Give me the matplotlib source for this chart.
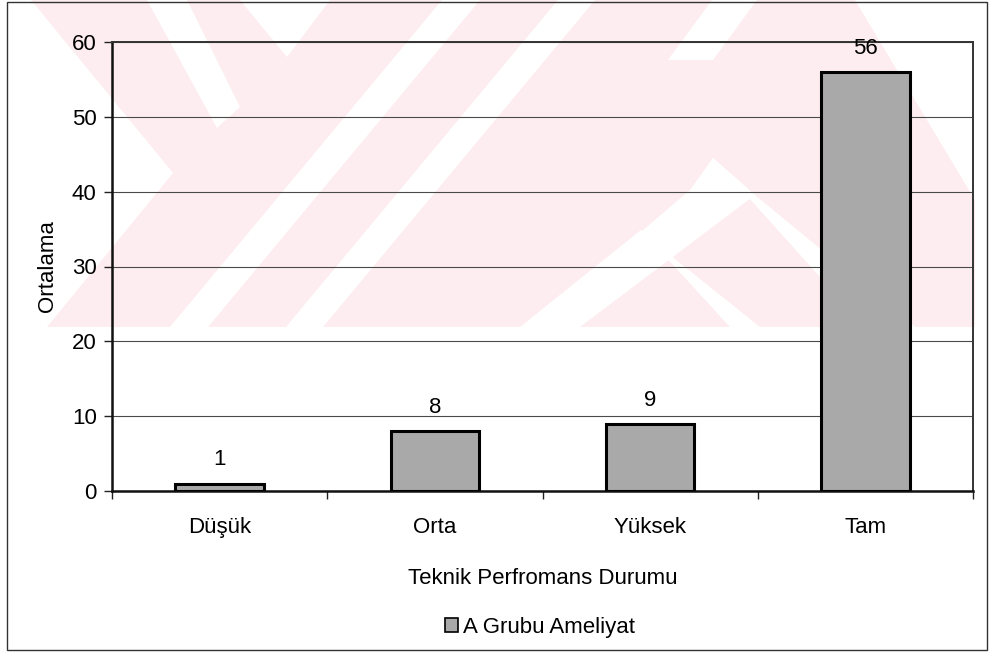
import matplotlib
matplotlib.use("Agg")
import matplotlib.pyplot as plt
from matplotlib.patches import Polygon, Rectangle, Patch

plt.rcParams["font.family"] = ["Liberation Sans", "DejaVu Sans"]

# Chart data
categories = ["Düşük", "Orta", "Yüksek", "Tam"]
values = [1, 8, 9, 56]
y_ticks = [0, 10, 20, 30, 40, 50, 60]
y_label = "Ortalama"
x_label = "Teknik Perfromans Durumu"
series_name = "A Grubu Ameliyat"

W, H = 990, 652
FS = 16
fig = plt.figure(figsize=(W / 100, H / 100), dpi=100)
fig.patch.set_facecolor("white")


def px(points):
    """Pixel coordinates (origin top-left) -> figure fraction."""
    return [(x / W, 1 - y / H) for x, y in points]


# Faint background watermark: pink band with white diagonal cut-outs
pink = "#fdedf0"
band_bottom = 327
fig.add_artist(Polygon(px([(12, 0), (975, 0), (975, band_bottom), (12, band_bottom)]),
                       closed=True, transform=fig.transFigure, facecolor=pink,
                       edgecolor="none", zorder=-5))
white_cuts = [
    [(12, 0), (31, 0), (173, 173), (47, 327), (12, 327)],
    [(147, 0), (187, 0), (240, 107), (217, 128)],
    [(240, 0), (330, 0), (287, 57)],
    [(442, 0), (480, 0), (208, 327), (170, 327)],
    [(558, 0), (595, 0), (323, 327), (286, 327)],
    [(712, 0), (757, 0), (713, 60), (668, 60)],
    [(713, 158), (755, 195), (580, 327), (530, 327), (690, 190)],
    [(713, 158), (755, 195), (915, 327), (865, 327)],
    [(641, 230), (670, 255), (560, 327), (520, 327)],
    [(641, 230), (670, 255), (760, 327), (730, 327)],
    [(855, 0), (975, 0), (975, 200)],
]
for poly in white_cuts:
    fig.add_artist(Polygon(px(poly), closed=True, transform=fig.transFigure,
                           facecolor="white", edgecolor="none", zorder=-4))

# Outer chart border
fig.add_artist(Rectangle((7 / W, 1 - 650 / H), 980 / W, 648 / H,
                         transform=fig.transFigure, fill=False,
                         edgecolor="#333333", linewidth=1.0, zorder=-3))

left, right, top, bottom = 112, 973, 42, 491
ax = fig.add_axes([left / W, 1 - bottom / H, (right - left) / W, (bottom - top) / H])
ax.set_facecolor("none")

xpos = list(range(len(categories)))
bars = ax.bar(xpos, values, width=0.41, color="#a9a9a9", edgecolor="black",
              linewidth=2.2, zorder=3)

for x, v in zip(xpos, values):
    ax.annotate(str(v), (x, v), xytext=(0, 17), textcoords="offset points",
                ha="center", va="center", fontsize=FS, color="black",
                annotation_clip=False, zorder=4)

ax.set_xlim(-0.5, len(categories) - 0.5)
ax.set_ylim(0, 60)
ax.set_yticks(y_ticks)
ax.set_yticklabels([str(t) for t in y_ticks], fontsize=FS)
ax.yaxis.grid(True, color="#4a4a4a", linewidth=0.8, zorder=1)
ax.set_axisbelow(True)

# Category labels centred under bars, tick marks on category boundaries
ax.set_xticks(xpos)
ax.set_xticklabels(categories, fontsize=FS)
ax.tick_params(axis="x", which="major", length=0, pad=19)
ax.set_xticks([i - 0.5 for i in range(len(categories) + 1)], minor=True)
ax.tick_params(axis="x", which="minor", length=6, width=1, direction="out", color="#222222")
ax.tick_params(axis="y", length=6, width=1, direction="out", pad=5, color="#222222")

for side in ["left", "bottom"]:
    ax.spines[side].set_linewidth(1.8)
    ax.spines[side].set_color("#111111")
for side in ["top", "right"]:
    ax.spines[side].set_linewidth(1.4)
    ax.spines[side].set_color("#333333")

ax.set_ylabel(y_label, fontsize=FS, labelpad=10)
ax.set_xlabel(x_label, fontsize=FS, labelpad=21)

fig.legend(handles=[Patch(facecolor="#a9a9a9", edgecolor="black", linewidth=1.2,
                          label=series_name)],
           loc="center", bbox_to_anchor=(540 / W, 1 - 627 / H), frameon=False,
           fontsize=FS, handlelength=0.6, handleheight=0.6, handletextpad=0.2)

fig.savefig("out.png", dpi=100)
